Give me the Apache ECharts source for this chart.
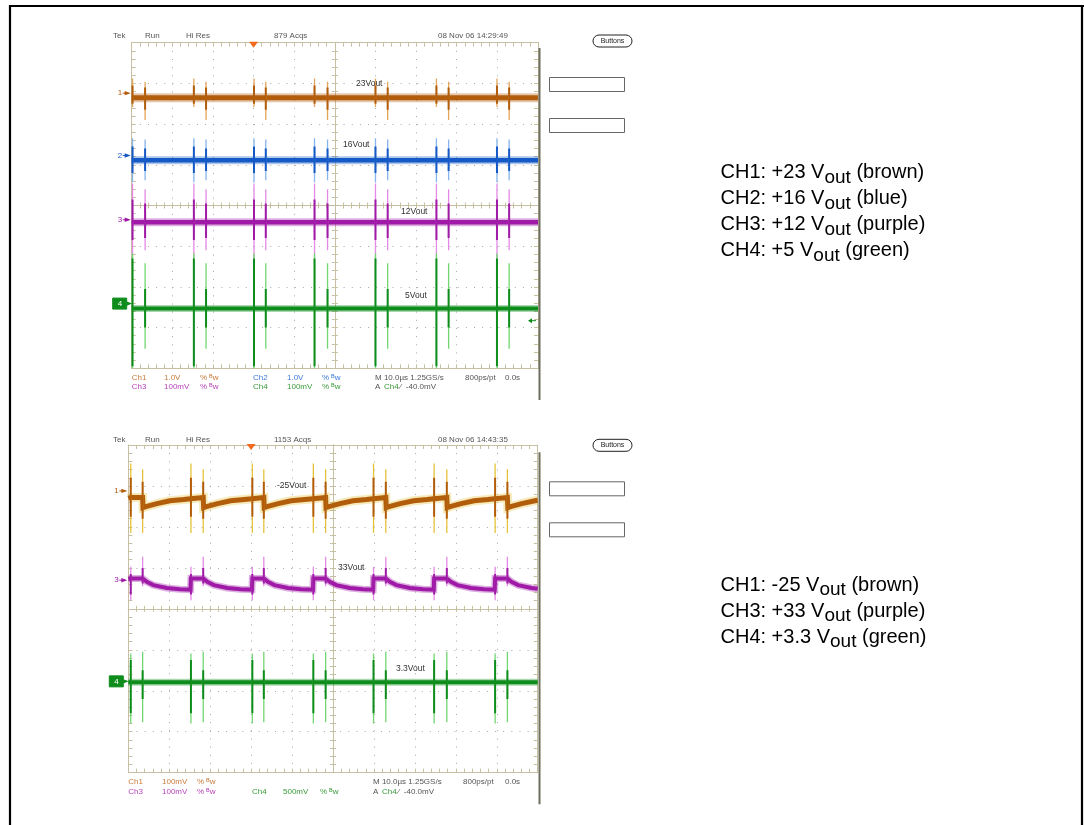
<!DOCTYPE html>
<html><head><meta charset="utf-8">
<script src="https://cdn.jsdelivr.net/npm/echarts@6/dist/echarts.min.js"></script>
<style>html,body{margin:0;padding:0;background:#fff}#c{width:1084px;height:825px}</style>
</head><body><div id="c"></div>
<script>
// ================= DATA =================
// x: time in µs relative to screen centre (10 µs/div), y: screen divisions (-4..4)
const s1SpikeTimes = [-49.8,-46.7,-34.7,-31.7,-19.9,-17.0,-5.0,-1.8,10.0,13.0,25.0,28.0,39.9,42.9];
const s2SpikeTimes = [-49.4,-46.5,-34.7,-31.7,-19.7,-16.9,-4.8,-1.8,9.9,12.9,24.7,27.8,39.6,42.6];
const triggerTime = -20;

// Scope 1 trace levels (div)
const s1Ch1Level = [[-50,2.65],[50,2.65]];
const s1Ch2Level = [[-50,1.11],[50,1.11]];
const s1Ch3Level = [[-50,-0.41],[50,-0.41]];
const s1Ch4Level = [[-50,-2.53],[50,-2.53]];
// spike extremes per pair position: [top, bottom, darkTop, darkBottom] for [first, second]
const s1Ch1Spike = [[3.12,2.42,2.95,2.50],[3.04,2.10,2.90,2.35]];
const s1Ch2Spike = [[1.65,0.57,1.45,0.80],[1.62,0.62,1.40,0.85]];
const s1Ch3Spike = [[0.54,-1.30,0.15,-0.85],[0.40,-1.10,0.05,-0.80]];
const s1Ch4Spike = [[-1.18,-4.0,-1.30,-3.95],[-1.42,-3.52,-2.05,-3.0]];

// Scope 2 trace levels (div)
const s2Ch1Level = [[-50,2.70],[-49.4,2.72],[-46.5,2.72],[-46.4,2.47],[-45.5,2.50],[-43,2.57],[-39.8,2.64],[-36.5,2.67],[-34.8,2.69],
  [-34.7,2.72],[-31.7,2.72],[-31.6,2.47],[-30.7,2.50],[-28.2,2.57],[-25,2.64],[-21.7,2.67],[-19.8,2.69],
  [-19.7,2.72],[-16.9,2.72],[-16.8,2.47],[-15.9,2.50],[-13.4,2.57],[-10.2,2.64],[-6.9,2.67],[-4.9,2.69],
  [-4.8,2.72],[-1.8,2.72],[-1.7,2.47],[-0.8,2.50],[1.7,2.57],[4.9,2.64],[8.2,2.67],[9.8,2.69],
  [9.9,2.72],[12.9,2.72],[13.0,2.47],[13.9,2.50],[16.4,2.57],[19.7,2.64],[23.0,2.67],[24.6,2.69],
  [24.7,2.72],[27.8,2.72],[27.9,2.47],[28.8,2.50],[31.3,2.57],[34.5,2.64],[37.8,2.67],[39.5,2.69],
  [39.6,2.72],[42.6,2.72],[42.7,2.47],[43.6,2.50],[46.1,2.57],[49.3,2.64],[50,2.65]];
const s2Ch3Level = [[-50,0.73],[-49.4,0.74],[-46.5,0.74],[-46.4,0.70],[-45.5,0.66],[-43.9,0.58],[-40.6,0.51],[-37.4,0.48],[-34.8,0.47],
  [-34.7,0.74],[-31.7,0.74],[-31.6,0.70],[-30.7,0.66],[-29.1,0.58],[-25.8,0.51],[-22.6,0.48],[-19.8,0.47],
  [-19.7,0.74],[-16.9,0.74],[-16.8,0.70],[-15.9,0.66],[-14.3,0.58],[-11.0,0.51],[-7.8,0.48],[-4.9,0.47],
  [-4.8,0.74],[-1.8,0.74],[-1.7,0.70],[-0.8,0.66],[0.8,0.58],[4.1,0.51],[7.3,0.48],[9.8,0.47],
  [9.9,0.74],[12.9,0.74],[13.0,0.70],[13.9,0.66],[15.5,0.58],[18.8,0.51],[22.0,0.48],[24.6,0.47],
  [24.7,0.74],[27.8,0.74],[27.9,0.70],[28.8,0.66],[30.4,0.58],[33.7,0.51],[36.9,0.48],[39.5,0.47],
  [39.6,0.74],[42.6,0.74],[42.7,0.70],[43.6,0.66],[45.2,0.58],[48.5,0.51],[50,0.49]];
const s2Ch4Level = [[-50,-1.79],[50,-1.79]];
const s2Ch1Spike = [[3.55,1.85,3.20,2.25],[3.41,1.85,3.10,2.20]];
const s2Ch3Spike = [[1.03,0.21,0.85,0.35],[1.27,0.55,1.00,0.62]];
const s2Ch4Spike = [[-1.09,-2.80,-1.25,-2.55],[-1.05,-2.77,-1.50,-2.20]];

// channel ground markers (div)
const s1Markers = [2.76, 1.23, -0.35, -2.41];
const s2Markers = [2.88, 0.70, -1.77];
const s1TrigLevel = -2.83;

// text
const s1Header = ['Tek','Run','Hi Res','879 Acqs','08 Nov 06 14:29:49'];
const s2Header = ['Tek','Run','Hi Res','1153 Acqs','08 Nov 06 14:43:35'];
const s1Names = ['23Vout','16Vout','12Vout','5Vout'];
const s2Names = ['-25Vout','33Vout','3.3Vout'];
const s1Legend = [['CH1: +23 V','(brown)'],['CH2: +16 V','(blue)'],['CH3: +12 V','(purple)'],['CH4: +5 V','(green)']];
const s2Legend = [['CH1: -25 V','(brown)'],['CH3: +33 V','(purple)'],['CH4: +3.3 V','(green)']];

// ================= STYLE =================
const C1='#b25d0c', C1L='#e3a55a', C1Y='#e6c23a';
const C2='#1559c6', C2L='#86b4ec';
const C3='#9f1aa6', C3L='#e48ae6';
const C4='#0f8d1c', C4L='#72d672';
const T1='#c87a3a', T2='#3d7ad8', T3='#b544bb', T4='#3a9a3a';
const frameColor='#c6bfa2', dotColor='#a6a6a6';
const FONT='"Liberation Sans", Arial, sans-serif';

const grids = [
  {left:131.7, top:42.7, width:406.3, height:325.6},
  {left:128.3, top:445, width:409.4, height:327.7}
];

function axesFor(g){
  const ls={color:frameColor,width:1};
  const base={gridIndex:g,type:'value',axisLabel:{show:false},splitLine:{show:false},minorSplitLine:{show:false}};
  const xs={min:-50,max:50,interval:10};
  const ys={min:-4,max:4,interval:1};
  const dash=[1,7.15];
  const mk=(lim,pos,onZero,zIdx,inside,len,split)=>Object.assign({},base,lim,{
    position:pos,
    axisLine:{show:true,onZero:onZero,onZeroAxisIndex:zIdx,lineStyle:ls},
    axisTick:{show:true,inside:inside,length:len,lineStyle:ls},
    minorTick:{show:true,splitNumber:5,length:len,lineStyle:ls},
    splitLine:{show:!!split,lineStyle:{color:dotColor,width:1,type:dash}}
  });
  return {
    x:[mk(xs,'bottom',false,null,true,4,true), mk(xs,'top',false,null,true,4,false),
       mk(xs,'bottom',true,4*g,true,3,false), mk(xs,'bottom',true,4*g,false,3,false)],
    y:[mk(ys,'left',false,null,true,4,true), mk(ys,'right',false,null,true,4,false),
       mk(ys,'left',true,4*g,true,3,false), mk(ys,'left',true,4*g,false,3,false)]
  };
}
const a0=axesFor(0), a1=axesFor(1);

function spikeData(times, spec, dark){
  const d=[];
  times.forEach((t,i)=>{
    const s=spec[i%2];
    d.push([t, dark?s[2]:s[0]],[t, dark?s[3]:s[1]],[t,'-']);
  });
  return d;
}
const series=[];
function line(g,data,color,width,opacity,z){
  series.push({type:'line',xAxisIndex:4*g,yAxisIndex:4*g,data:data,symbol:'none',showSymbol:false,
    connectNulls:false,silent:true,animation:false,clip:true,z:z,
    lineStyle:{color:color,width:width,opacity:opacity,join:'miter'}});
}
function channel(g,level,times,spec,col,light,fuzz,core,fuzzW,z){
  line(g,level,fuzz,fuzzW,0.35,z);
  line(g,level,col,core,1,z);
  line(g,spikeData(times,spec,false),light,1.3,1,z+1);
  line(g,spikeData(times,spec,true),col,2,1,z+1);
}
channel(0,s1Ch1Level,s1SpikeTimes,s1Ch1Spike,C1,C1L,C1,5,9,2);
channel(0,s1Ch2Level,s1SpikeTimes,s1Ch2Spike,C2,C2L,C2,4.5,8,3);
channel(0,s1Ch3Level,s1SpikeTimes,s1Ch3Spike,C3,C3L,C3,4.5,8,4);
channel(0,s1Ch4Level,s1SpikeTimes,s1Ch4Spike,C4,C4L,C4,4,7,5);
channel(1,s2Ch1Level,s2SpikeTimes,s2Ch1Spike,C1,C1Y,C1Y,5,9,2);
channel(1,s2Ch3Level,s2SpikeTimes,s2Ch3Spike,C3,C3L,C3,4,7,3);
channel(1,s2Ch4Level,s2SpikeTimes,s2Ch4Spike,C4,C4L,C4,4,7,4);

const chart=echarts.init(document.getElementById('c'),null,{renderer:'canvas',width:1084,height:825});
chart.setOption({
  backgroundColor:'#ffffff',
  animation:false,
  grid:grids.map(g=>Object.assign({outerBoundsMode:'none',containLabel:false,show:false},g)),
  xAxis:a0.x.concat(a1.x),
  yAxis:a0.y.concat(a1.y),
  series:series
});

// ================= ANNOTATIONS =================
const P=(g,t,v)=>chart.convertToPixel({xAxisIndex:4*g,yAxisIndex:4*g},[t,v]);
const G=[];
function txt(x,y,s,size,fill,opt){
  G.push(Object.assign({type:'text',x:x,y:y,silent:true,z:50,style:{text:s,font:size+'px '+FONT,fill:fill,verticalAlign:'middle',align:'left'}},opt||{}));
}
function rect(x,y,w,h,stroke,fill,r,lw){
  G.push({type:'rect',silent:true,z:50,shape:{x:x,y:y,width:w,height:h,r:r||0},style:{fill:fill||'none',stroke:stroke,lineWidth:lw||1}});
}
function seg(x1,y1,x2,y2,stroke,lw){
  G.push({type:'line',silent:true,z:50,shape:{x1:x1,y1:y1,x2:x2,y2:y2},style:{stroke:stroke,lineWidth:lw||1}});
}
function poly(pts,fill){
  G.push({type:'polygon',silent:true,z:50,shape:{points:pts},style:{fill:fill}});
}
// outer frame
seg(10,6,1084,6,'#000',2.2); seg(10,5,10,825,'#000',2.2); seg(1082,5,1082,825,'#000',2.2);

function scopeDecor(g,header,hy,dy){
  const hx=[113,145,186,274,438];
  header.forEach((h,i)=>txt(hx[i],hy,h,8,'#555'));
  // right screen edge
  seg(539.5,48+dy,539.5,400+dy,'#6e6e5e',2);
  // side buttons
  G.push({type:'rect',silent:true,z:50,shape:{x:593,y:35+dy,width:39,height:12,r:6},style:{fill:'#fff',stroke:'#222',lineWidth:1}});
  txt(612.5,41+dy,'Buttons',7,'#222',{style:{text:'Buttons',font:'7px '+FONT,fill:'#222',verticalAlign:'middle',align:'center'}});
  rect(549.5,77.5+dy,75,14,'#666','#fff');
  rect(549.5,118.5+dy,75,14,'#666','#fff');
  // trigger position marker
  const tp=P(g,triggerTime,4);
  poly([[tp[0]-4.5,tp[1]-1],[tp[0]+4.5,tp[1]-1],[tp[0],tp[1]+5]],'#f26a1e');
}
scopeDecor(0,s1Header,35.7,0);
scopeDecor(1,s2Header,440,404.3);

function marker(g,lv,label,color){
  const p=P(g,-50,lv);
  txt(p[0]-14,p[1],label,8,color);
  poly([[p[0]-7,p[1]-2.2],[p[0]-1,p[1]],[p[0]-7,p[1]+2.2]],color);
  seg(p[0]-9,p[1],p[0]-3,p[1],color,1);
}
function boxMarker(g,lv,label,color){
  const p=P(g,-50,lv);
  rect(p[0]-19,p[1]-5.5,14,11,color,color);
  txt(p[0]-14,p[1],label,8,'#fff');
  poly([[p[0]-5,p[1]-2.2],[p[0]+0.5,p[1]],[p[0]-5,p[1]+2.2]],color);
}
marker(0,s1Markers[0],'1',C1); marker(0,s1Markers[1],'2',C2); marker(0,s1Markers[2],'3',C3); boxMarker(0,s1Markers[3],'4',C4);
marker(1,s2Markers[0],'1',C1); marker(1,s2Markers[1],'3',C3); boxMarker(1,s2Markers[2],'4',C4);
// ch4 trigger level arrow (scope 1)
(function(){const p=P(0,50,s1TrigLevel);poly([[p[0]-10,p[1]],[p[0]-6,p[1]-2.5],[p[0]-6,p[1]+2.5]],C4);seg(p[0]-7,p[1],p[0]-2,p[1],C4,1);})();

// trace name labels
const s1NamePos=[[356,83.3],[343,145],[401,211.7],[405,296]];
const s2NamePos=[[277,486],[338,568],[396,669]];
s1Names.forEach((n,i)=>txt(s1NamePos[i][0],s1NamePos[i][1],n,8.5,'#333'));
s2Names.forEach((n,i)=>txt(s2NamePos[i][0],s2NamePos[i][1],n,8.5,'#333'));

// status lines
function status(y1,y2,rows){
  rows.forEach(r=>txt(r[0],r[1]?y2:y1,r[2],8,r[3]));
}
const BW='% ᴮw';
status(377.3,386.7,[
  [131.7,0,'Ch1',T1],[164,0,'1.0V',T1],[200,0,BW,T1],[253,0,'Ch2',T2],[287,0,'1.0V',T2],[322,0,BW,T2],
  [375,0,'M 10.0µs 1.25GS/s','#555'],[465,0,'800ps/pt','#555'],[505,0,'0.0s','#555'],
  [131.7,1,'Ch3',T3],[164,1,'100mV',T3],[200,1,BW,T3],[253,1,'Ch4',T4],[287,1,'100mV',T4],[322,1,BW,T4],
  [375,1,'A',"#555"],[384,1,'Ch4',T4],[400,1,'⁄  -40.0mV','#555']
]);
status(781.7,791.7,[
  [128.3,0,'Ch1',T1],[162,0,'100mV',T1],[197,0,BW,T1],
  [373,0,'M 10.0µs 1.25GS/s','#555'],[463,0,'800ps/pt','#555'],[505,0,'0.0s','#555'],
  [128.3,1,'Ch3',T3],[162,1,'100mV',T3],[197,1,BW,T3],[252,1,'Ch4',T4],[283,1,'500mV',T4],[320,1,BW,T4],
  [373,1,'A',"#555"],[382,1,'Ch4',T4],[398,1,'⁄  -40.0mV','#555']
]);

// legend text on the right
const cv=document.createElement('canvas').getContext('2d');
function tw(s,size){cv.font=size+'px '+FONT;return cv.measureText(s).width;}
function legend(lines,x,b0){
  lines.forEach((l,i)=>{
    const b=b0+i*26;
    const w1=tw(l[0],20), w2=tw('out',19);
    txt(x,b-7,l[0],20,'#000');
    txt(x+w1,b+5-6.8,'out',19,'#000');
    txt(x+w1+w2+tw(' ',20),b-7,l[1],20,'#000');
  });
}
legend(s1Legend,720.5,179.3);
legend(s2Legend,720.5,592);

chart.setOption({graphic:G});
</script></body></html>
